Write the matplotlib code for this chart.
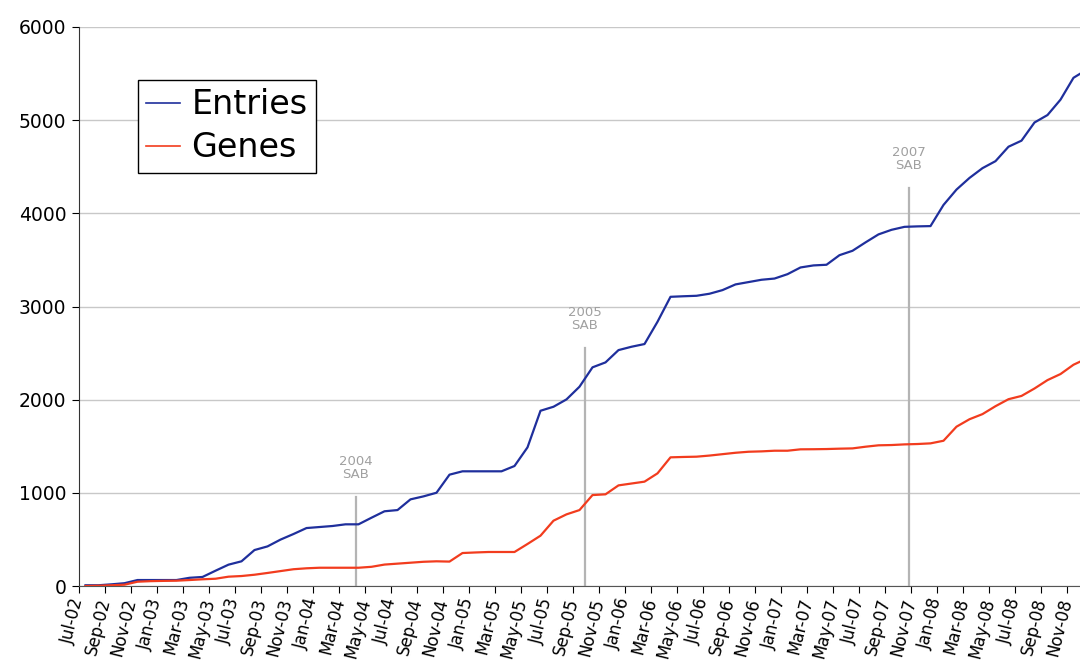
import numpy as np
import matplotlib
matplotlib.use("Agg")
import matplotlib.pyplot as plt

# monthly counts, Jul-02 .. Dec-08
entries = [8, 8, 18, 30, 64, 64, 64, 64, 88, 97,
           164, 229, 265, 386, 425, 498, 558, 622, 633, 644,
           662, 662, 733, 802, 815, 930, 962, 1001, 1195, 1231,
           1231, 1231, 1231, 1288, 1488, 1881, 1924, 2003, 2139, 2347,
           2400, 2532, 2568, 2597, 2836, 3104, 3110, 3115, 3137, 3176,
           3237, 3262, 3287, 3300, 3347, 3419, 3441, 3448, 3551, 3598,
           3688, 3774, 3823, 3855, 3860, 3863, 4090, 4255, 4380, 4485,
           4560, 4715, 4780, 4975, 5055, 5220, 5455, 5540]
genes = [0, 3, 8, 14, 46, 52, 55, 57, 64, 72,
         78, 100, 107, 121, 140, 160, 180, 190, 196, 196,
         196, 196, 206, 230, 240, 250, 260, 265, 262, 354,
         360, 365, 365, 365, 451, 540, 701, 769, 815, 976,
         984, 1080, 1100, 1120, 1209, 1381, 1385, 1388, 1400, 1415,
         1430, 1441, 1445, 1452, 1452, 1467, 1468, 1470, 1474, 1477,
         1495, 1510, 1513, 1520, 1524, 1531, 1559, 1710, 1790, 1845,
         1930, 2005, 2040, 2120, 2210, 2275, 2375, 2440]

tick_labels = ['Jul-02', 'Sep-02', 'Nov-02', 'Jan-03', 'Mar-03', 'May-03',
               'Jul-03', 'Sep-03', 'Nov-03', 'Jan-04', 'Mar-04', 'May-04',
               'Jul-04', 'Sep-04', 'Nov-04', 'Jan-05', 'Mar-05', 'May-05',
               'Jul-05', 'Sep-05', 'Nov-05', 'Jan-06', 'Mar-06', 'May-06',
               'Jul-06', 'Sep-06', 'Nov-06', 'Jan-07', 'Mar-07', 'May-07',
               'Jul-07', 'Sep-07', 'Nov-07', 'Jan-08', 'Mar-08', 'May-08',
               'Jul-08', 'Sep-08', 'Nov-08']

# SAB meetings: month position, label, line height
sab_pos = [21.3, 38.9, 63.85]
sab_text = ['2004\nSAB', '2005\nSAB', '2007\nSAB']
sab_top = [955, 2555, 4270]

x = np.arange(len(entries)) + 0.5

fig = plt.figure(figsize=(10.8, 6.65), dpi=100)
ax = fig.add_axes([79/1080, 79/665, 1 - 79/1080, 559/665])

ax.set_ylim(0, 6000)
ax.set_xlim(0, 77)
ax.set_yticks(range(0, 6001, 1000))
ax.yaxis.grid(True, color='#c8c8c8', linewidth=1)
ax.set_axisbelow(True)

for p, t, h in zip(sab_pos, sab_text, sab_top):
    ax.plot([p, p], [0, h], color='#b4b4b4', linewidth=1.6, zorder=2)
    ax.text(p, h + 170, t, ha='center', va='bottom', color='#a0a0a0',
            fontsize=9.5, linespacing=1.0)

ax.plot(x, entries, color='#1f2f9c', linewidth=1.6, label='Entries', zorder=3)
ax.plot(x, genes, color='#f23c1e', linewidth=1.6, label='Genes', zorder=3)

ax.set_xticks(np.arange(0, 77, 2))
ax.set_xticklabels(tick_labels, rotation=76, ha='right', va='center',
                   rotation_mode='anchor', fontsize=12)
ax.tick_params(axis='y', labelsize=13.5, length=5, direction='out', pad=4)
ax.tick_params(axis='x', length=5, direction='out', pad=4)

ax.spines['top'].set_visible(False)
ax.spines['right'].set_visible(False)
ax.spines['left'].set_color('#333333')
ax.spines['bottom'].set_color('#555555')

leg = ax.legend(loc='upper left', bbox_to_anchor=(0.059, 0.905), fontsize=24,
                handlelength=1.0, handletextpad=0.35, borderpad=0.25,
                labelspacing=0.3, fancybox=False, framealpha=1, borderaxespad=0)
leg.get_frame().set_edgecolor('black')
leg.get_frame().set_linewidth(1.0)
for line in leg.get_lines():
    line.set_linewidth(1.2)

fig.savefig('out.png', dpi=100)
